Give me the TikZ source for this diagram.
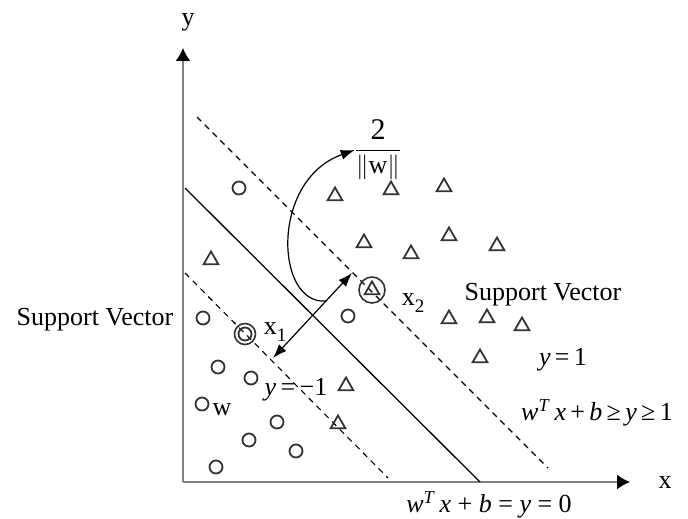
\documentclass[tikz,border=0pt]{standalone}
\usepackage{fontspec}
\setmainfont{Liberation Serif}
\usetikzlibrary{arrows.meta,shapes.geometric,calc}

\newcommand\lowidx[1]{\raisebox{-7pt}{\fontsize{19}{20}\selectfont #1}}

\begin{document}
\begin{tikzpicture}[x=1pt,y=-1pt,>={Latex[length=14pt,width=10pt]},
  lbl/.style={font=\fontsize{26}{30}\selectfont, inner sep=0pt},
  axis/.style={gray, line width=1.5pt, -{Latex[length=13pt,width=15pt,color=black]}},
  circ/.style={circle, draw=black!80, line width=1.8pt, minimum size=13pt, inner sep=0pt},
  tri/.style={regular polygon, regular polygon sides=3, draw=black!80, line width=1.8pt,
    minimum size=17pt, inner sep=0pt},
  margin/.style={dashed, line width=1.1pt, dash pattern=on 6pt off 5pt}]

  \useasboundingbox (0,0) rectangle (688,519);

  % assen
  \coordinate (O) at (183,482);
  \coordinate (xend) at (630,482);
  \coordinate (yend) at (183,48);
  \draw[axis] (O) -- (xend);
  \draw[axis] (O) -- (yend);
  \node[lbl] (xlab) at (665,483) {x};
  \node[lbl] (ylab) at (188,22) {y};

  % scheidingsvlak en marges
  \coordinate (h0a) at (185,188);
  \coordinate (h0b) at (480,482);
  \coordinate (h1a) at (197,117);
  \coordinate (h1b) at (548,468);
  \coordinate (h2a) at (185,273);
  \coordinate (h2b) at (388,478);
  \draw[line width=1.3pt] (h0a) -- (h0b);
  \draw[margin] (h1a) -- (h1b);
  \draw[margin] (h2a) -- (h2b);

  % klasse -1
  \foreach \p [count=\i] in {(239,188),(203,318),(218,367),(251,378),(202,404),
      (277,422),(249,440),(296,451),(216,467),(348,316)}
    \node[circ] (c\i) at \p {};

  % klasse +1
  \foreach \p [count=\i] in {(211,260),(335,196),(391,190),(444,187),(364,243),
      (411,254),(449,236),(497,246),(449,319),(487,318),(522,326),(480,358),
      (346,386),(338,424)}
    \node[tri] (t\i) at \p {};

  % support vectors
  \node[circ] (sv1) at (245,334) {};
  \draw[black!80, line width=1.6pt] (sv1) circle (10.5);
  \node[tri] (sv2) at (372,290) {};
  \draw[black!80, line width=1.6pt] (sv2) circle (13);
  \node[lbl] (x1lab) at (275,332) {x\lowidx{1}};
  \node[lbl] (x2lab) at (413,303) {x\lowidx{2}};
  \node[lbl] (svleft) at (95,320) {Support Vector};
  \node[lbl] (svright) at (543,295) {Support Vector};

  % marge 2/||w||
  \coordinate (m1) at (273,358);
  \coordinate (m2) at (352,273);
  \draw[<->, line width=1.2pt] (m1) -- (m2);
  \node[lbl] (gap) at (378,150) {$\displaystyle\frac{\mbox{\fontsize{30}{32}\selectfont 2}}{\big\|\mbox{w}\big\|}$};
  \coordinate (c0) at ($(m1)!0.67!(m2)$);
  \draw[->, line width=1.2pt] (c0) .. controls (275,305) and (270,180) .. (gap.west);

  % vergelijkingen
  \node[lbl] (wlab) at (222,410) {w};
  \node[lbl] (yneg) at (296,390) {\textit{y}\,=\,−1};
  \node[lbl] (ypos) at (563,360) {\textit{y}\,=\,1};
  \node[lbl] (ineq) at (597,413)
    {\textit{w}\textsuperscript{\textit{T}}\,\textit{x}\,+\,\textit{b}\,≥\,\textit{y}\,≥\,1};
  \node[lbl] (hyper) at (489,505)
    {\textit{w}\textsuperscript{\textit{T}}\,\textit{x} + \textit{b} = \textit{y} = 0};

\end{tikzpicture}
\end{document}
